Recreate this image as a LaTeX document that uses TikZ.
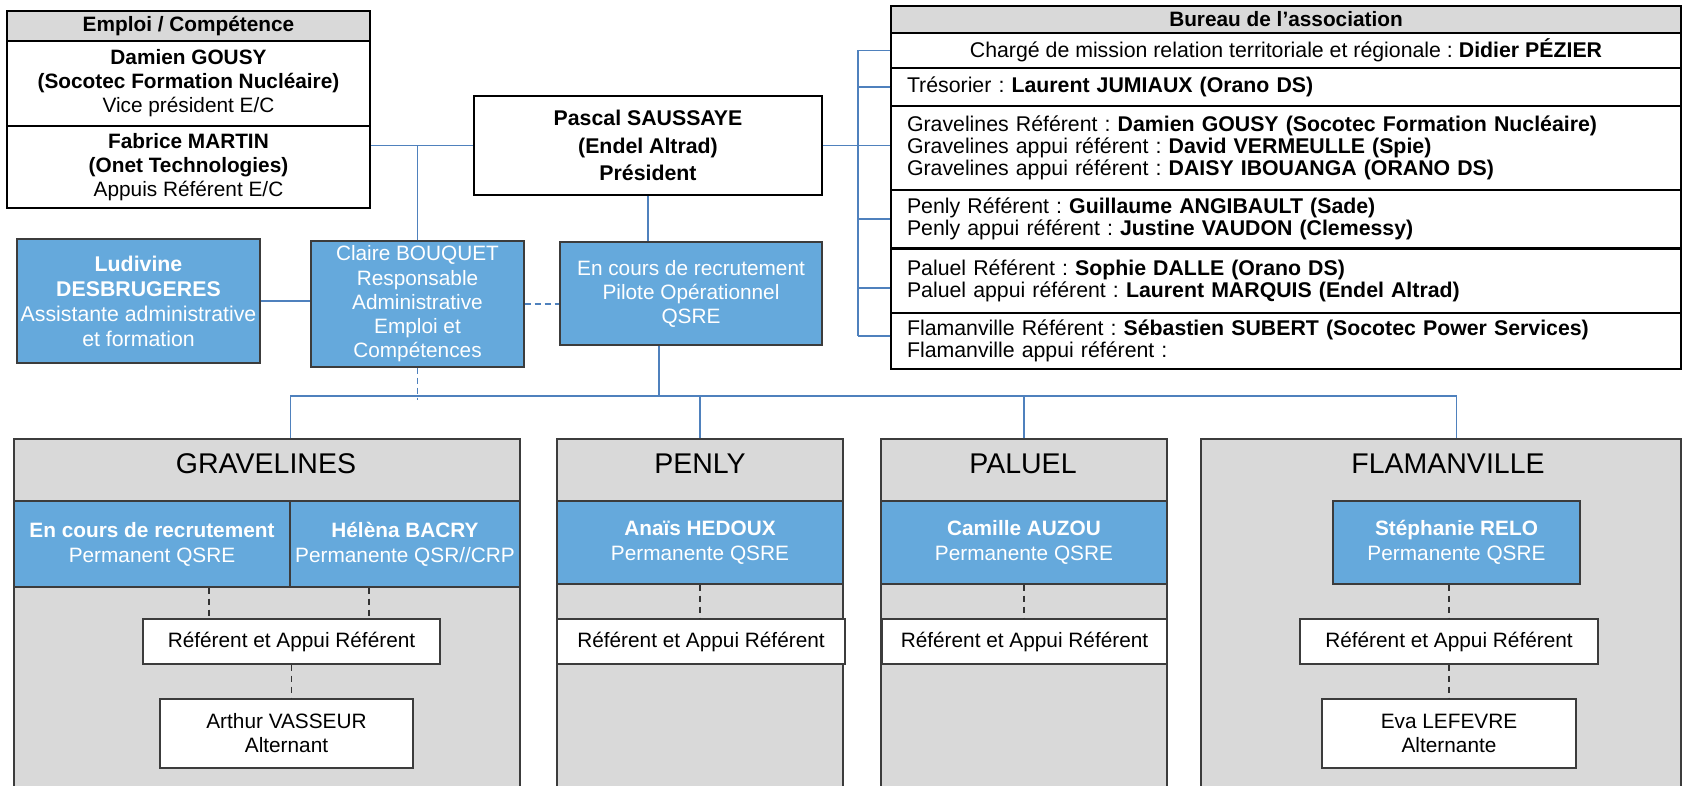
\documentclass[tikz,border=0pt]{standalone}
\usepackage{fontspec}
\setmainfont{Liberation Sans}
\frenchspacing
\definecolor{permblue}{RGB}{101,169,220}
\definecolor{linkblue}{RGB}{79,129,189}
\definecolor{sitegray}{RGB}{217,217,217}
\definecolor{edgegray}{RGB}{60,60,60}

\begin{document}
\begin{tikzpicture}[x=1pt, y=-1pt,
    sz/.style 2 args={minimum width=#1pt, minimum height=#2pt},
    cell/.style={draw=edgegray, line width=1.3pt, inner sep=0pt, align=center,
        font=\fontsize{20.8}{24}\selectfont},
    site/.style={cell, fill=sitegray},
    sitetitle/.style={inner sep=0pt, font=\fontsize{28.5}{30}\selectfont},
    perm/.style={cell, fill=permblue, text=white, font=\fontsize{20.8}{25}\selectfont},
    refbox/.style={cell, fill=white},
    tabhead/.style={cell, draw=black, fill=sitegray,
        font=\bfseries\fontsize{20.8}{24}\selectfont},
    tabrow/.style={cell, draw=black, fill=white},
    burow/.style={tabrow, align=left, text width=758pt, inner xsep=16pt,
        font=\fontsize{21.3}{22}\selectfont},
    pres/.style={cell, draw=black, line width=2.5pt, fill=white,
        font=\bfseries\fontsize{21.3}{27.5}\selectfont},
    conn/.style={draw=linkblue, line width=1.3pt},
    conndash/.style={conn, dash pattern=on 6pt off 4pt},
    subdash/.style={draw=black!80, line width=1.2pt, dash pattern=on 6pt off 5pt}
]
    \useasboundingbox (0,0) rectangle (1684,786);
    \clip (0,0) rectangle (1684,786);

    % emploi / competence
    \node[tabhead, sz={363}{30}] (emhead) at (188.5,26) {Emploi / Compétence};
    \node[tabrow, sz={363}{85}] (emvp) at (188.5,83.5)
        {\textbf{Damien GOUSY}\\\textbf{(Socotec Formation Nucléaire)}\\Vice président E/C};
    \node[tabrow, sz={363}{82}] (emref) at (188.5,167)
        {\textbf{Fabrice MARTIN}\\\textbf{(Onet Technologies)}\\Appuis Référent E/C};

    % bureau
    \node[tabhead, sz={790}{27}] (buhead) at (1286,19.5) {Bureau de l’association};
    \node[tabrow, sz={790}{35}, font=\fontsize{21.3}{22}\selectfont] (buch) at (1286,50.5)
        {Chargé de mission relation territoriale et régionale : \textbf{Didier PÉZIER}};
    \node[burow, sz={790}{38}] (butr) at (1286,87)
        {Trésorier : \textbf{Laurent JUMIAUX (Orano DS)}};
    \node[burow, sz={790}{84}] (bugr) at (1286,148)
        {Gravelines Référent : \textbf{Damien GOUSY (Socotec Formation Nucléaire)}\\
         Gravelines appui référent : \textbf{David VERMEULLE (Spie)}\\
         Gravelines appui référent : \textbf{DAISY IBOUANGA (ORANO DS)}};
    \node[burow, sz={790}{58}] (bupe) at (1286,219)
        {Penly Référent : \textbf{Guillaume ANGIBAULT (Sade)}\\
         Penly appui référent : \textbf{Justine VAUDON (Clemessy)}};
    \node[burow, sz={790}{65}] (bupa) at (1286,280.5)
        {Paluel Référent : \textbf{Sophie DALLE (Orano DS)}\\
         Paluel appui référent : \textbf{Laurent MARQUIS (Endel Altrad)}};
    \node[burow, sz={790}{56}] (bufl) at (1286,341)
        {Flamanville Référent : \textbf{Sébastien SUBERT (Socotec Power Services)}\\
         Flamanville appui référent :};
    \draw[line width=2.2pt] (bupe.south west) -- (bupe.south east);

    % direction
    \node[pres, sz={348}{99}] (pres) at (648,145.5) {Pascal SAUSSAYE\\(Endel Altrad)\\Président};
    \node[perm, sz={243}{124}, font=\fontsize{21.3}{25}\selectfont] (ludi) at (138.5,301)
        {\textbf{Ludivine}\\\textbf{DESBRUGERES}\\Assistante administrative\\et formation};
    \node[perm, sz={213}{126}, font=\fontsize{20.8}{24.2}\selectfont] (claire) at (417.5,304)
        {Claire BOUQUET\\Responsable\\Administrative\\Emploi et\\Compétences};
    \node[perm, sz={262}{103}, font=\fontsize{20.8}{24}\selectfont] (pilote) at (691,293.5)
        {En cours de recrutement\\Pilote Opérationnel\\QSRE};

    % sites
    \node[site, sz={506}{361}] (grav) at (267,619.5) {};
    \node[site, sz={286}{361}] (penly) at (700,619.5) {};
    \node[site, sz={286}{361}] (paluel) at (1024,619.5) {};
    \node[site, sz={480}{361}] (flam) at (1441,619.5) {};
    \foreach \s/\t/\x in {grav/GRAVELINES/266, penly/PENLY/700,
                          paluel/PALUEL/1023, flam/FLAMANVILLE/1448}
        \node[sitetitle] (\s-title) at (\x,464) {\t};

    \node[perm, sz={276}{86}] (gravA) at (152,544) {\textbf{En cours de recrutement}\\Permanent QSRE};
    \node[perm, sz={230}{86}] (gravB) at (405,544) {\textbf{Hélèna BACRY}\\Permanente QSR//CRP};
    \node[perm, sz={286}{83}] (penlyP) at (700,542.5) {\textbf{Anaïs HEDOUX}\\Permanente QSRE};
    \node[perm, sz={286}{83}] (paluelP) at (1024,542.5) {\textbf{Camille AUZOU}\\Permanente QSRE};
    \node[perm, sz={247}{83}] (flamP) at (1456.5,542.5) {\textbf{Stéphanie RELO}\\Permanente QSRE};

    \foreach \s/\x/\w in {grav/291.5/297, penly/701/288, paluel/1024.5/285, flam/1449/298}
        \node[refbox, sz={\w}{45}] (\s R) at (\x,641.5) {Référent et Appui Référent};

    \node[refbox, sz={253}{69}] (gravAlt) at (286.5,733.5) {Arthur VASSEUR\\Alternant};
    \node[refbox, sz={254}{69}] (flamAlt) at (1449,733.5) {Eva LEFEVRE\\Alternante};

    % links
    \coordinate (bus) at (659,396);
    \coordinate (busv) at (858,0);
    \draw[conn] (buch.west -| busv) -- ([yshift=5pt]bufl.west -| busv);
    \foreach \r/\s in {buch/0pt, butr/0pt, bupe/0pt, bupa/-7.5pt, bufl/5pt}
        \draw[conn] ([yshift=\s]\r.west) -- ([yshift=\s]\r.west -| busv);
    \draw[conn] (pres.east) -- (bugr.west |- pres.east);
    \draw[conn] (pres.west) -- (pres.west -| emref.east);
    \draw[conn] (claire.north) -- (claire.north |- pres.west);
    \draw[conn] (ludi.east) -- (ludi.east -| claire.west);
    \draw[conndash] (claire.east) -- (claire.east -| pilote.west);
    \draw[conn] (pres.south) -- (pres.south |- pilote.north);
    \draw[conn] (pilote.south -| bus) -- (bus);
    \draw[conn] (gravA.east |- grav.north) |- (bus) -| (flamP.north |- flam.north);
    \draw[conn] (penly.north) -- (penly.north |- bus);
    \draw[conn] (paluel.north) -- (paluel.north |- bus);
    \draw[conndash] (claire.south) -- ([yshift=-4pt]claire.south |- bus);

    \draw[subdash] ([xshift=57pt]gravA.south) -- ([xshift=57pt]gravA.south |- gravR.north);
    \draw[subdash] ([xshift=-36pt]gravB.south) -- ([xshift=-36pt]gravB.south |- gravR.north);
    \draw[subdash] (gravR.south) -- (gravR.south |- gravAlt.north);
    \draw[subdash] (penlyP.south) -- (penlyP.south |- penlyR.north);
    \draw[subdash] (paluelP.south) -- (paluelP.south |- paluelR.north);
    \draw[subdash] (flamR.north |- flamP.south) -- (flamR.north);
    \draw[subdash] (flamR.south) -- (flamAlt.north);
\end{tikzpicture}
\end{document}
